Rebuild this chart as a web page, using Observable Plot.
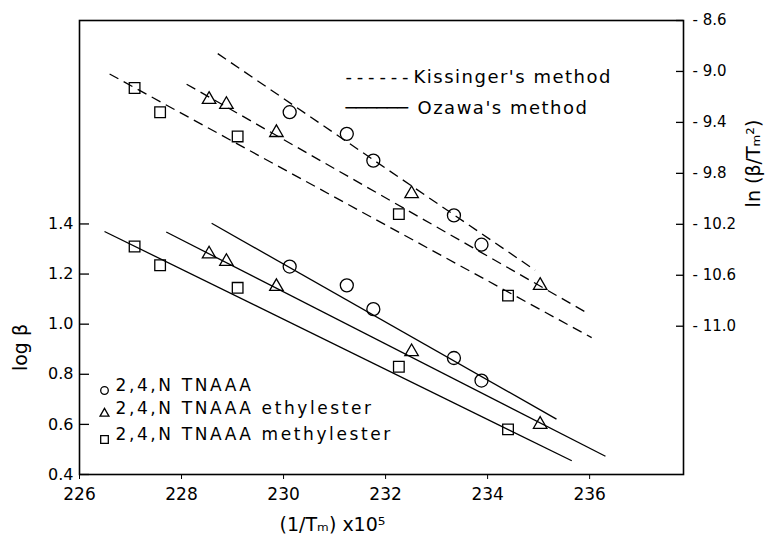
<!DOCTYPE html>
<html><head><meta charset="utf-8">
<script src="https://cdn.jsdelivr.net/npm/d3@7"></script>
<script src="https://cdn.jsdelivr.net/npm/@observablehq/plot@0.6"></script>
<style>body{margin:0;background:#fff}</style>
</head><body><div id="chart"></div>
<script>
// ---- data ----
const compounds = ["2,4,N TNAAA", "2,4,N TNAAA ethylester", "2,4,N TNAAA methylester"];
const symbols = ["circle", "triangle", "square"];
// (1/Tm) x 10^5
const xTNAAA  = [230.12, 231.24, 231.76, 233.34, 233.88];
const xEthyl  = [228.54, 228.88, 229.86, 232.51, 235.03];
const xMethyl = [227.08, 227.58, 229.10, 232.26, 234.40];
// Ozawa: log beta (left axis)
const logBetaTNAAA  = [1.23, 1.155, 1.06, 0.865, 0.775];
const logBetaEthyl  = [1.28, 1.25, 1.15, 0.89, 0.60];
const logBetaMethyl = [1.31, 1.235, 1.145, 0.83, 0.58];
// Kissinger: ln(beta/Tm^2) (right axis)
const lnTNAAA  = [-9.32, -9.49, -9.70, -10.13, -10.36];
const lnEthyl  = [-9.22, -9.26, -9.48, -9.96, -10.68];
const lnMethyl = [-9.13, -9.32, -9.51, -10.12, -10.76];
// fitted lines (start / end)
const ozawaFitX0 = [228.59, 227.70, 226.49], ozawaFitX1 = [235.35, 236.31, 235.65];
const ozawaFitY0 = [1.403, 1.368, 1.37],     ozawaFitY1 = [0.621, 0.473, 0.455];
const kissFitX0 = [228.71, 228.10, 226.59],  kissFitX1 = [234.93, 235.97, 236.04];
const kissFitY0 = [-8.86, -9.10, -9.02],     kissFitY1 = [-10.56, -10.90, -11.09];
// ticks
const xTicks = [226, 228, 230, 232, 234, 236];
const logTicks = [0.4, 0.6, 0.8, 1.0, 1.2, 1.4];
const lnTicks = [-8.6, -9.0, -9.4, -9.8, -10.2, -10.6, -11.0];
// legend texts
const methodSamples = ["------", "──────"];
const methodLabels = ["Kissinger's method", "Ozawa's method"];

// right axis (ln) expressed in left-axis (log beta) units
const toLeft = L => 2.212 + 0.5084 * (L + 8.6);

const xs = [xTNAAA, xEthyl, xMethyl];
const logs = [logBetaTNAAA, logBetaEthyl, logBetaMethyl];
const lns = [lnTNAAA, lnEthyl, lnMethyl];
const ptsBy = symbols.map((s, k) => {
  const arr = [];
  xs[k].forEach((x, i) => {
    arr.push({x, y: logs[k][i]});
    arr.push({x, y: toLeft(lns[k][i])});
  });
  return arr;
});
const ozawaSegs = ozawaFitX0.map((x, i) => ({x1: x, x2: ozawaFitX1[i], y1: ozawaFitY0[i], y2: ozawaFitY1[i]}));
const kissSegs = kissFitX0.map((x, i) => ({x1: x, x2: kissFitX1[i], y1: toLeft(kissFitY0[i]), y2: toLeft(kissFitY1[i])}));

const W = 769, H = 536, mL = 79, mR = 86, mT = 20, mB = 62;
const pw = W - mL - mR;
const legendRows = [-84, -61, -35];
const methodRows = [50, 81];
const markR = [6.5, 5, 6];
const legendR = [3.8, 3.3, 4.3];

const chart = Plot.plot({
  width: W, height: H, marginLeft: mL, marginRight: mR, marginTop: mT, marginBottom: mB,
  style: {fontFamily: "DejaVu Sans", fontSize: "15px", background: "white", color: "black"},
  x: {domain: [226, 237.84]},
  y: {domain: [0.4, 2.212]},
  marks: [
    Plot.frame({stroke: "black", strokeWidth: 1.6}),
    Plot.axisX(xTicks, {tickSize: 5, tickPadding: 8, fontSize: 17, label: null, tickFormat: d => String(d)}),
    Plot.axisY(logTicks, {tickSize: 0, tickPadding: 6, fontSize: 16, label: null, tickFormat: d => d.toFixed(1)}),
    Plot.tickY(logTicks, {y: d => d, insetRight: pw - 10, stroke: "black", strokeWidth: 1.3}),
    Plot.tickY(lnTicks, {y: d => toLeft(d), insetLeft: pw - 7, stroke: "black", strokeWidth: 1.3}),
    Plot.text(lnTicks, {y: d => toLeft(d), frameAnchor: "right", dx: 9, textAnchor: "start", fontSize: 15,
      text: d => "- " + Math.abs(d).toFixed(1)}),
    // fit lines
    Plot.link(ozawaSegs, {x1: "x1", y1: "y1", x2: "x2", y2: "y2", stroke: "black", strokeWidth: 1.3}),
    Plot.link(kissSegs, {x1: "x1", y1: "y1", x2: "x2", y2: "y2", stroke: "black", strokeWidth: 1.3, strokeDasharray: "10,6"}),
    // points
    ...symbols.map((s, k) => Plot.dot(ptsBy[k], {x: "x", y: "y", symbol: s, r: markR[k], fill: "none", stroke: "black", strokeWidth: 1.3})),
    // symbol legend
    ...symbols.map((s, k) => Plot.dot([compounds[k]], {frameAnchor: "bottom-left", dx: 25, dy: legendRows[k], symbol: s, r: legendR[k], fill: "none", stroke: "black", strokeWidth: 1.3})),
    ...compounds.map((c, k) => Plot.text([c], {frameAnchor: "bottom-left", dx: 36, dy: legendRows[k], text: d => d, textAnchor: "start", fontSize: 17})),
    // method legend
    ...methodSamples.map((s, k) => Plot.text([s], {frameAnchor: "top-left", dx: 266, dy: methodRows[k], text: d => d, textAnchor: "start", fontSize: 18})),
    ...methodLabels.map((s, k) => Plot.text([s], {frameAnchor: "top-left", dx: k === 0 ? 334 : 338, dy: methodRows[k], text: d => d, textAnchor: "start", fontSize: 18})),
    // axis titles
    Plot.text(["log β"], {frameAnchor: "left", dx: -59, dy: 100, rotate: -90, textAnchor: "middle", fontSize: 19}),
    Plot.text(["ln (β/Tₘ²)"], {frameAnchor: "top-right", dx: 63, dy: 143, rotate: -90, textAnchor: "middle", fontSize: 19}),
    Plot.text(["(1/Tₘ) x10⁵"], {frameAnchor: "bottom", dx: -49, dy: 56, textAnchor: "middle", fontSize: 19})
  ]
});
document.getElementById("chart").appendChild(chart);

// letter spacing for legend texts (typewriter look)
d3.select(chart).selectAll("text").each(function() {
  const t = this.textContent;
  if (compounds.includes(t)) this.setAttribute("letter-spacing", "2.6");
  else if (methodLabels.includes(t)) this.setAttribute("letter-spacing", "1.5");
  else if (t === methodSamples[0]) this.setAttribute("letter-spacing", "4.8");
  else if (t === methodSamples[1]) this.setAttribute("letter-spacing", "-0.5");
});
</script>
</body></html>
